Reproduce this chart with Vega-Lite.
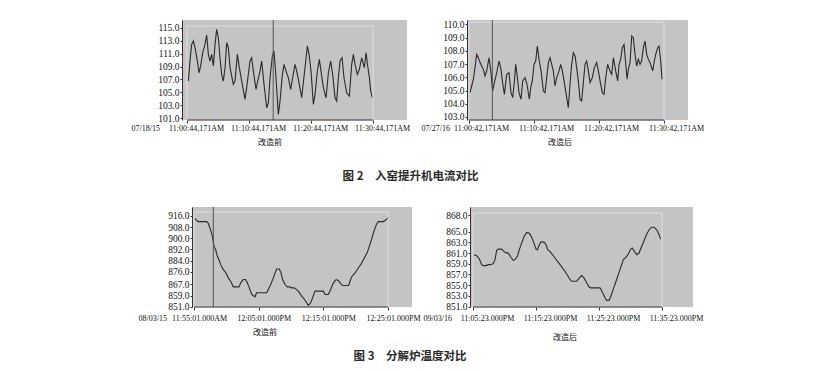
{
  "$schema": "https://vega.github.io/schema/vega-lite/v6.json",
  "background": "white",
  "padding": {"left": 131, "top": 19, "right": 5, "bottom": 5},
  "bounds": "full",
  "spacing": 24,
  "config": {
    "view": {"stroke": null},
    "axis": {"grid": false, "labelFont": "Liberation Serif", "labelColor": "#111", "labelFlush": false, "labelOverlap": false, "tickColor": "#333", "domainColor": "#333", "titleFont": "Liberation Serif", "titleFontWeight": "normal", "titleColor": "#111"},
    "axisX": {"domain": false, "tickSize": 3, "labelFontSize": 8, "titleFontSize": 8, "titleAlign": "left", "titleBaseline": "top"},
    "axisY": {"tickSize": 2, "labelPadding": 1, "labelFontSize": 9.5},
    "title": {"font": "Noto Sans CJK SC", "fontSize": 8, "fontWeight": "normal", "color": "#111", "orient": "bottom", "anchor": "middle"}
  },
  "datasets": {
    "p1": [{"t":0.22,"v":106.76},{"t":0.48,"v":109.85},{"t":0.75,"v":112.42},{"t":1.02,"v":112.94},{"t":1.29,"v":111.91},{"t":1.67,"v":109.85},{"t":1.94,"v":108.04},{"t":2.2,"v":109.08},{"t":2.53,"v":111.14},{"t":2.9,"v":112.42},{"t":3.17,"v":113.87},{"t":3.44,"v":110.88},{"t":3.71,"v":109.85},{"t":3.98,"v":110.88},{"t":4.25,"v":109.08},{"t":4.52,"v":112.42},{"t":4.78,"v":114.74},{"t":5.05,"v":113.45},{"t":5.32,"v":110.36},{"t":5.59,"v":107.79},{"t":5.86,"v":106.76},{"t":6.13,"v":108.82},{"t":6.4,"v":112.68},{"t":6.67,"v":111.91},{"t":6.94,"v":108.82},{"t":7.47,"v":106.24},{"t":7.74,"v":106.76},{"t":8.12,"v":110.88},{"t":8.44,"v":108.82},{"t":8.82,"v":106.76},{"t":9.35,"v":103.92},{"t":9.62,"v":105.73},{"t":10.16,"v":109.85},{"t":10.43,"v":110.36},{"t":10.7,"v":108.3},{"t":11.13,"v":105.47},{"t":11.4,"v":106.76},{"t":11.77,"v":108.3},{"t":12.04,"v":109.85},{"t":12.42,"v":106.24},{"t":12.85,"v":102.64},{"t":13.12,"v":103.41},{"t":13.39,"v":107.27},{"t":13.76,"v":110.62},{"t":14.03,"v":111.39},{"t":14.35,"v":107.27},{"t":14.73,"v":101.6},{"t":15.0,"v":103.67},{"t":15.38,"v":107.79},{"t":15.65,"v":109.33},{"t":15.97,"v":108.3},{"t":16.34,"v":107.27},{"t":16.72,"v":105.47},{"t":17.04,"v":107.27},{"t":17.42,"v":109.33},{"t":17.69,"v":108.3},{"t":18.06,"v":106.5},{"t":18.49,"v":104.18},{"t":19.03,"v":108.82},{"t":19.41,"v":112.17},{"t":19.68,"v":110.88},{"t":20.0,"v":108.3},{"t":20.38,"v":103.15},{"t":20.65,"v":104.7},{"t":21.02,"v":108.3},{"t":21.34,"v":110.11},{"t":21.61,"v":108.3},{"t":21.99,"v":105.73},{"t":22.42,"v":104.18},{"t":22.8,"v":108.04},{"t":23.17,"v":109.85},{"t":23.49,"v":107.79},{"t":23.87,"v":104.18},{"t":24.14,"v":103.67},{"t":24.41,"v":107.27},{"t":24.68,"v":109.85},{"t":25.0,"v":110.36},{"t":25.32,"v":107.27},{"t":25.75,"v":104.95},{"t":26.18,"v":104.44},{"t":26.56,"v":109.33},{"t":26.83,"v":110.88},{"t":27.1,"v":109.33},{"t":27.47,"v":107.79},{"t":27.8,"v":108.56},{"t":28.17,"v":110.36},{"t":28.6,"v":108.82},{"t":28.87,"v":111.14},{"t":29.14,"v":109.08},{"t":29.41,"v":107.27},{"t":29.62,"v":105.21},{"t":29.89,"v":104.18}],
    "p2": [{"t":0.15,"v":104.84},{"t":0.41,"v":105.34},{"t":0.67,"v":105.85},{"t":0.92,"v":106.73},{"t":1.18,"v":107.73},{"t":1.44,"v":107.48},{"t":1.69,"v":107.11},{"t":1.95,"v":106.85},{"t":2.21,"v":106.6},{"t":2.46,"v":106.1},{"t":2.72,"v":106.48},{"t":3.08,"v":107.48},{"t":3.38,"v":106.35},{"t":3.64,"v":104.97},{"t":3.9,"v":105.6},{"t":4.26,"v":106.35},{"t":4.62,"v":107.23},{"t":4.92,"v":106.6},{"t":5.13,"v":105.72},{"t":5.44,"v":104.71},{"t":5.79,"v":106.22},{"t":6.15,"v":106.35},{"t":6.46,"v":104.84},{"t":6.72,"v":104.46},{"t":6.97,"v":105.6},{"t":7.18,"v":106.98},{"t":7.44,"v":105.97},{"t":7.69,"v":104.84},{"t":8.0,"v":104.34},{"t":8.26,"v":105.72},{"t":8.62,"v":105.97},{"t":8.92,"v":105.47},{"t":9.28,"v":104.34},{"t":9.54,"v":105.34},{"t":9.74,"v":105.72},{"t":10.0,"v":106.98},{"t":10.26,"v":107.23},{"t":10.51,"v":108.36},{"t":10.77,"v":107.36},{"t":11.08,"v":106.48},{"t":11.44,"v":104.97},{"t":11.69,"v":104.84},{"t":11.95,"v":105.97},{"t":12.21,"v":107.11},{"t":12.46,"v":107.48},{"t":12.72,"v":106.98},{"t":12.97,"v":106.48},{"t":13.23,"v":105.34},{"t":13.49,"v":105.97},{"t":13.85,"v":106.48},{"t":14.1,"v":106.98},{"t":14.36,"v":106.48},{"t":14.67,"v":105.6},{"t":15.03,"v":104.46},{"t":15.28,"v":103.71},{"t":15.54,"v":105.47},{"t":15.79,"v":106.98},{"t":16.05,"v":107.86},{"t":16.31,"v":107.61},{"t":16.56,"v":106.73},{"t":16.82,"v":105.72},{"t":17.08,"v":104.34},{"t":17.33,"v":104.21},{"t":17.59,"v":105.6},{"t":17.85,"v":106.98},{"t":18.1,"v":107.23},{"t":18.36,"v":106.48},{"t":18.62,"v":105.6},{"t":18.97,"v":105.97},{"t":19.28,"v":106.73},{"t":19.64,"v":107.11},{"t":19.9,"v":106.48},{"t":20.21,"v":105.6},{"t":20.51,"v":104.84},{"t":20.77,"v":104.71},{"t":21.03,"v":105.97},{"t":21.33,"v":106.98},{"t":21.69,"v":106.48},{"t":21.95,"v":106.22},{"t":22.21,"v":107.48},{"t":22.56,"v":106.48},{"t":22.87,"v":105.72},{"t":23.08,"v":106.98},{"t":23.33,"v":107.36},{"t":23.59,"v":108.24},{"t":23.85,"v":108.49},{"t":24.1,"v":107.11},{"t":24.31,"v":105.85},{"t":24.51,"v":106.6},{"t":24.77,"v":107.11},{"t":25.03,"v":109.12},{"t":25.28,"v":108.99},{"t":25.54,"v":107.73},{"t":25.79,"v":106.85},{"t":26.05,"v":107.36},{"t":26.31,"v":106.98},{"t":26.56,"v":107.23},{"t":26.82,"v":108.24},{"t":27.08,"v":108.74},{"t":27.33,"v":107.73},{"t":27.59,"v":107.36},{"t":27.85,"v":107.11},{"t":28.1,"v":106.73},{"t":28.26,"v":106.48},{"t":28.51,"v":107.23},{"t":28.72,"v":107.73},{"t":29.03,"v":108.24},{"t":29.23,"v":108.36},{"t":29.49,"v":107.23},{"t":29.69,"v":105.85}],
    "p3": [{"t":0.15,"v":914.34},{"t":0.41,"v":912.68},{"t":0.67,"v":911.97},{"t":1.19,"v":911.97},{"t":1.96,"v":911.97},{"t":2.22,"v":910.78},{"t":2.47,"v":907.22},{"t":2.73,"v":903.66},{"t":2.99,"v":897.73},{"t":3.09,"v":894.17},{"t":3.35,"v":891.79},{"t":3.61,"v":887.05},{"t":3.87,"v":884.68},{"t":4.12,"v":881.12},{"t":4.54,"v":877.56},{"t":4.95,"v":875.18},{"t":5.31,"v":871.62},{"t":5.67,"v":869.25},{"t":6.08,"v":865.22},{"t":6.34,"v":865.22},{"t":6.96,"v":865.22},{"t":7.22,"v":868.06},{"t":7.63,"v":870.44},{"t":7.99,"v":870.44},{"t":8.25,"v":868.06},{"t":8.56,"v":864.5},{"t":8.92,"v":859.76},{"t":9.43,"v":858.1},{"t":9.69,"v":860.95},{"t":11.24,"v":860.95},{"t":11.49,"v":863.32},{"t":11.86,"v":866.88},{"t":12.27,"v":871.62},{"t":12.53,"v":875.18},{"t":12.78,"v":878.03},{"t":13.2,"v":878.03},{"t":13.45,"v":875.18},{"t":13.71,"v":870.44},{"t":14.07,"v":866.88},{"t":14.43,"v":865.22},{"t":14.74,"v":865.22},{"t":15.1,"v":864.5},{"t":15.46,"v":864.5},{"t":15.72,"v":863.79},{"t":16.13,"v":862.13},{"t":16.65,"v":858.57},{"t":17.01,"v":856.67},{"t":17.42,"v":853.83},{"t":17.68,"v":851.93},{"t":18.04,"v":853.83},{"t":18.35,"v":857.39},{"t":18.71,"v":862.13},{"t":20.0,"v":862.13},{"t":20.26,"v":859.76},{"t":20.77,"v":859.76},{"t":21.13,"v":863.32},{"t":21.55,"v":868.06},{"t":21.96,"v":870.44},{"t":22.32,"v":869.73},{"t":22.58,"v":868.06},{"t":22.99,"v":866.17},{"t":23.92,"v":866.17},{"t":24.12,"v":869.25},{"t":24.38,"v":872.34},{"t":24.9,"v":875.18},{"t":25.41,"v":878.74},{"t":25.77,"v":881.12},{"t":26.19,"v":884.68},{"t":26.6,"v":888.24},{"t":26.8,"v":889.9},{"t":27.11,"v":894.17},{"t":27.47,"v":899.39},{"t":27.73,"v":903.66},{"t":27.99,"v":907.22},{"t":28.25,"v":910.3},{"t":28.51,"v":911.97},{"t":29.28,"v":911.97},{"t":29.54,"v":912.68},{"t":29.79,"v":913.63},{"t":30.05,"v":915.05}],
    "p4": [{"t":0.16,"v":860.69},{"t":0.58,"v":860.5},{"t":1.01,"v":859.88},{"t":1.38,"v":858.83},{"t":1.64,"v":858.65},{"t":2.06,"v":858.65},{"t":2.43,"v":858.83},{"t":2.8,"v":858.83},{"t":3.23,"v":859.02},{"t":3.49,"v":859.76},{"t":3.76,"v":861.49},{"t":4.02,"v":861.73},{"t":4.55,"v":861.73},{"t":4.92,"v":861.3},{"t":5.24,"v":860.99},{"t":5.45,"v":861.12},{"t":5.77,"v":860.69},{"t":5.98,"v":860.25},{"t":6.4,"v":859.64},{"t":6.67,"v":859.76},{"t":7.04,"v":860.38},{"t":7.35,"v":861.61},{"t":7.72,"v":862.85},{"t":8.1,"v":864.08},{"t":8.52,"v":864.82},{"t":8.94,"v":864.7},{"t":9.31,"v":863.96},{"t":9.68,"v":862.85},{"t":10.0,"v":861.73},{"t":10.21,"v":861.61},{"t":10.53,"v":862.54},{"t":10.74,"v":863.03},{"t":11.27,"v":863.03},{"t":11.59,"v":862.54},{"t":11.85,"v":861.61},{"t":12.22,"v":861.3},{"t":13.02,"v":860.07},{"t":13.81,"v":858.83},{"t":14.6,"v":857.6},{"t":15.4,"v":856.06},{"t":15.66,"v":855.75},{"t":16.46,"v":855.75},{"t":16.88,"v":856.36},{"t":17.25,"v":856.8},{"t":17.62,"v":856.36},{"t":18.04,"v":855.44},{"t":18.41,"v":854.7},{"t":18.68,"v":854.51},{"t":20.16,"v":854.51},{"t":20.58,"v":853.59},{"t":20.95,"v":852.66},{"t":21.22,"v":852.17},{"t":21.59,"v":852.17},{"t":21.85,"v":852.84},{"t":22.28,"v":854.33},{"t":22.8,"v":856.06},{"t":23.33,"v":857.91},{"t":23.86,"v":859.76},{"t":24.29,"v":860.25},{"t":24.66,"v":860.81},{"t":25.03,"v":861.73},{"t":25.29,"v":861.92},{"t":25.61,"v":861.3},{"t":25.98,"v":860.69},{"t":26.35,"v":860.99},{"t":26.67,"v":861.92},{"t":27.04,"v":862.97},{"t":27.46,"v":864.2},{"t":27.88,"v":865.19},{"t":28.31,"v":865.81},{"t":28.73,"v":865.81},{"t":29.15,"v":865.31},{"t":29.47,"v":864.57},{"t":29.79,"v":863.59}]
  },
  "vconcat": [
    {
      "hconcat": [
        {
          "width": 225, "height": 100,
          "view": {"fill": "#c4c4c4", "stroke": null},
          "title": {"text": "改造前", "frame": "group", "dx": -24.5, "offset": 6},
          "layer": [
            {"data": {"name": "p1"}, "mark": {"type": "line", "color": "#2a2a2a", "strokeWidth": 1.1},
             "encoding": {
               "x": {"field": "t", "type": "quantitative", "scale": {"domain": [-0.81, 35.48], "nice": false, "zero": false},
                     "axis": {"values": [0, 10, 20, 30], "tickCount": 30, "labelExpr": "['11:00:44,171AM','11:10:44,171AM','11:20:44,171AM','11:30:44,171AM'][datum.value/10]", "labelOffset": 9, "labelPadding": 1.5, "title": "07/18/15", "titleX": -51, "titleY": 4.5}},
               "y": {"field": "v", "type": "quantitative", "scale": {"domain": [100.74, 116.19], "nice": false, "zero": false},
                     "axis": {"values": [101, 103, 105, 107, 109, 111, 113, 115], "tickCount": 30, "format": ".1f", "title": null}}
             }},
            {"data": {"values": [{}]}, "mark": {"type": "rect", "fill": null, "stroke": "#e0e0e0", "strokeWidth": 1},
             "encoding": {"x": {"datum": 0, "type": "quantitative"}, "x2": {"datum": 30}, "y": {"datum": 115.26, "type": "quantitative"}, "y2": {"datum": 100.74}}},
            {"data": {"values": [{}]}, "mark": {"type": "rule", "color": "#555", "strokeWidth": 1}, "encoding": {"x": {"datum": 13.9, "type": "quantitative"}}},
            {"data": {"values": [{}]}, "mark": {"type": "rule", "color": "#333", "strokeWidth": 1}, "encoding": {"x": {"datum": 0, "type": "quantitative"}, "x2": {"datum": 30}, "y": {"datum": 100.74, "type": "quantitative"}}}
          ]
        },
        {
          "width": 221, "height": 100,
          "view": {"fill": "#c4c4c4", "stroke": null},
          "title": {"text": "改造后", "frame": "group", "dx": -17.5, "offset": 6},
          "layer": [
            {"data": {"name": "p2"}, "mark": {"type": "line", "color": "#2a2a2a", "strokeWidth": 1.1},
             "encoding": {
               "x": {"field": "t", "type": "quantitative", "scale": {"domain": [-0.31, 33.69], "nice": false, "zero": false},
                     "axis": {"values": [0, 10, 20, 30], "tickCount": 30, "labelExpr": "['11:00:42,171AM','11:10:42,171AM','11:20:42,171AM','11:30:42,171AM'][datum.value/10]", "labelOffset": 12, "labelPadding": 1.5, "title": "07/27/16", "titleX": -46, "titleY": 4.5}},
               "y": {"field": "v", "type": "quantitative", "scale": {"domain": [102.77, 110.33], "nice": false, "zero": false},
                     "axis": {"values": [103, 104, 105, 106, 107, 108, 109, 110], "tickCount": 30, "format": ".1f", "title": null}}
             }},
            {"data": {"values": [{}]}, "mark": {"type": "rect", "fill": null, "stroke": "#e0e0e0", "strokeWidth": 1},
             "encoding": {"x": {"datum": 0, "type": "quantitative"}, "x2": {"datum": 30}, "y": {"datum": 110.17, "type": "quantitative"}, "y2": {"datum": 102.77}}},
            {"data": {"values": [{}]}, "mark": {"type": "rule", "color": "#555", "strokeWidth": 1}, "encoding": {"x": {"datum": 3.59, "type": "quantitative"}}},
            {"data": {"values": [{}]}, "mark": {"type": "rule", "color": "#333", "strokeWidth": 1}, "encoding": {"x": {"datum": 0, "type": "quantitative"}, "x2": {"datum": 30}, "y": {"datum": 102.77, "type": "quantitative"}}}
          ]
        }
      ],
      "spacing": 60,
      "bounds": "flush",
      "title": {"text": "图 2\u3000入窑提升机电流对比", "fontSize": 11.5, "fontWeight": "bold", "color": "#2a2a2a", "dx": -6.7, "offset": 24}
    },
    {
      "hconcat": [
        {"width": 1, "height": 1, "data": {"values": []}, "mark": "point", "encoding": {}},
        {
          "hconcat": [
            {
              "width": 220, "height": 100,
              "view": {"fill": "#c4c4c4", "stroke": null},
              "title": {"text": "改造前", "frame": "group", "dx": -37, "offset": 7},
              "layer": [
                {"data": {"name": "p3"}, "mark": {"type": "line", "color": "#2a2a2a", "strokeWidth": 1.1},
                 "encoding": {
                   "x": {"field": "t", "type": "quantitative", "scale": {"domain": [-0.31, 33.71], "nice": false, "zero": false},
                         "axis": {"values": [0, 10, 20, 30], "tickCount": 30, "labelExpr": "['11:55:01.000AM','12:05:01.000PM','12:15:01.000PM','12:25:01.000PM'][datum.value/10]", "labelOffset": 5, "labelPadding": 4, "title": "08/03/15", "titleX": -54, "titleY": 7}},
                   "y": {"field": "v", "type": "quantitative", "scale": {"domain": [850.79, 922.41], "nice": false, "zero": false},
                         "axis": {"values": [851, 859, 867, 876, 884, 892, 900, 908, 916], "tickCount": 30, "format": ".1f", "title": null}}
                 }},
                {"data": {"values": [{}]}, "mark": {"type": "rect", "fill": null, "stroke": "#e0e0e0", "strokeWidth": 1},
                 "encoding": {"x": {"datum": 0, "type": "quantitative"}, "x2": {"datum": 30}, "y": {"datum": 918.85, "type": "quantitative"}, "y2": {"datum": 850.79}}},
                {"data": {"values": [{}]}, "mark": {"type": "rule", "color": "#555", "strokeWidth": 1}, "encoding": {"x": {"datum": 2.99, "type": "quantitative"}}},
                {"data": {"values": [{}]}, "mark": {"type": "rule", "color": "#333", "strokeWidth": 1}, "encoding": {"x": {"datum": 0, "type": "quantitative"}, "x2": {"datum": 30}, "y": {"datum": 850.79, "type": "quantitative"}}}
              ]
            },
            {
              "width": 223, "height": 100,
              "view": {"fill": "#c4c4c4", "stroke": null},
              "title": {"text": "改造后", "frame": "group", "dx": -16.5, "offset": 12},
              "layer": [
                {"data": {"name": "p4"}, "mark": {"type": "line", "color": "#2a2a2a", "strokeWidth": 1.1},
                 "encoding": {
                   "x": {"field": "t", "type": "quantitative", "scale": {"domain": [-0.476, 34.92], "nice": false, "zero": false},
                         "axis": {"values": [0, 10, 20, 30], "tickCount": 30, "labelExpr": "['11:05:23.000PM','11:15:23.000PM','11:25:23.000PM','11:35:23.000PM'][datum.value/10]", "labelOffset": 14, "labelPadding": 4, "title": "09/03/16", "titleX": -47, "titleY": 7}},
                   "y": {"field": "v", "type": "quantitative", "scale": {"domain": [850.94, 869.57], "nice": false, "zero": false},
                         "axis": {"values": [851, 853, 855, 857, 859, 861, 863, 865, 868], "tickCount": 30, "format": ".1f", "title": null}}
                 }},
                {"data": {"values": [{}]}, "mark": {"type": "rect", "fill": null, "stroke": "#e0e0e0", "strokeWidth": 1},
                 "encoding": {"x": {"datum": 0, "type": "quantitative"}, "x2": {"datum": 30}, "y": {"datum": 868.46, "type": "quantitative"}, "y2": {"datum": 850.94}}},
                {"data": {"values": [{}]}, "mark": {"type": "rule", "color": "#333", "strokeWidth": 1}, "encoding": {"x": {"datum": 0, "type": "quantitative"}, "x2": {"datum": 30}, "y": {"datum": 850.94, "type": "quantitative"}}}
              ]
            }
          ],
          "spacing": 58,
          "bounds": "flush"
        }
      ],
      "spacing": 9,
      "bounds": "flush",
      "title": {"text": "图 3\u3000分解炉温度对比", "fontSize": 11.5, "fontWeight": "bold", "color": "#2a2a2a", "dx": -10.4, "offset": 9}
    }
  ]
}
